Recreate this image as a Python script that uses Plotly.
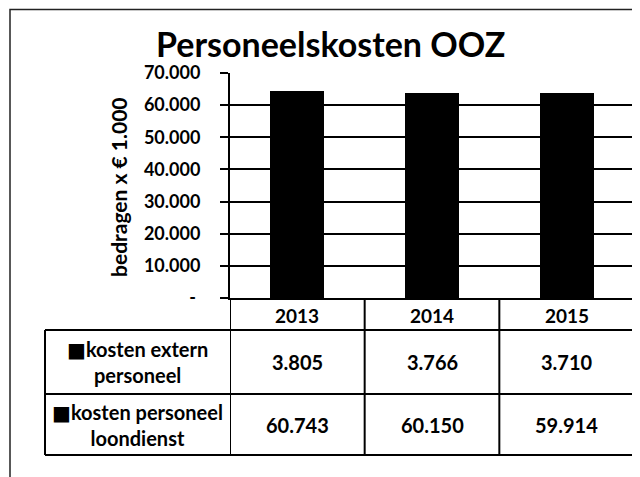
import plotly.graph_objects as go

# ---- data ----
years = ["2013", "2014", "2015"]
kosten_extern = [3805, 3766, 3710]
kosten_loondienst = [60743, 60150, 59914]
row_labels = ["\u25A0kosten extern<br>personeel", "\u25A0kosten personeel<br>loondienst"]
y_tickvals = [0, 10000, 20000, 30000, 40000, 50000, 60000, 70000]
y_ticktext = ["-\u2009\u2009", "10.000", "20.000", "30.000", "40.000", "50.000", "60.000", "70.000"]
title_text = "Personeelskosten OOZ"
y_title = "bedragen x \u20ac 1.000"

W, H = 640, 477
OFF = 8  # page body margin offset of the rendered figure
FONT = "Lato, 'DejaVu Sans', sans-serif"


def px(x):
    return (x - OFF) / W


def py(y):
    return 1 - (y - OFF) / H


def fmt(v):
    return f"{v:,}".replace(",", ".")


fig = go.Figure()
fig.add_trace(go.Bar(x=years, y=kosten_loondienst, marker=dict(color="black", line=dict(width=0)),
                     name="kosten personeel loondienst", showlegend=False))
fig.add_trace(go.Bar(x=years, y=kosten_extern, marker=dict(color="black", line=dict(width=0)),
                     name="kosten extern personeel", showlegend=False))

# plot area pixel bounds (screen pixels)
PL, PR, PT, PB = 230, 634, 73, 298
# table rows
T_HEAD_B, T_ROW1_B, T_ROW2_B = 330, 394, 455
T_LEFT = 45

shapes = []
line = dict(color="black", width=2)
# vertical column separators through table
for xv in [-0.5, 0.5, 1.5, 2.5]:
    shapes.append(dict(type="line", xref="x", yref="paper", x0=xv, x1=xv,
                       y0=py(PB), y1=py(T_ROW2_B), line=line))
# horizontal rows spanning label column + data columns
for yv in [T_HEAD_B, T_ROW1_B, T_ROW2_B]:
    shapes.append(dict(type="line", xref="paper", yref="paper", x0=px(T_LEFT), x1=px(PR),
                       y0=py(yv), y1=py(yv), line=line))
# left edge of label column
shapes.append(dict(type="line", xref="paper", yref="paper", x0=px(T_LEFT), x1=px(T_LEFT),
                   y0=py(T_HEAD_B), y1=py(T_ROW2_B), line=line))
# outer chart border
shapes.append(dict(type="rect", xref="paper", yref="paper", x0=px(10), x1=px(700),
                   y0=py(9.5), y1=py(540), line=dict(color="#222", width=1.5)))

annotations = []
# title
annotations.append(dict(text=title_text, xref="paper", yref="paper", x=px(330), y=py(44),
                        showarrow=False, xanchor="center", yanchor="middle",
                        font=dict(family=FONT, size=34, color="black", weight="bold")))
# y-axis title
annotations.append(dict(text=y_title, xref="paper", yref="paper", x=px(118), y=py(187),
                        showarrow=False, textangle=-90, xanchor="center", yanchor="middle",
                        font=dict(family=FONT, size=21, color="black", weight="bold")))
# header row
head_c = (PB + T_HEAD_B) / 2
for i, yr in enumerate(years):
    annotations.append(dict(text=yr, xref="x", yref="paper", x=i, y=py(head_c + 1),
                            showarrow=False, xanchor="center", yanchor="middle",
                            font=dict(family=FONT, size=19, color="black", weight="bold")))
# data rows
row_centers = [(T_HEAD_B + T_ROW1_B) / 2, (T_ROW1_B + T_ROW2_B) / 2]
for rc, label, vals in zip(row_centers, row_labels, [kosten_extern, kosten_loondienst]):
    annotations.append(dict(text=label, xref="paper", yref="paper", x=px((T_LEFT + PL) / 2),
                            y=py(rc), showarrow=False, xanchor="center", yanchor="middle",
                            align="center",
                            font=dict(family=FONT, size=20, color="black", weight="bold")))
    for i, v in enumerate(vals):
        annotations.append(dict(text=fmt(v), xref="x", yref="paper", x=i, y=py(rc),
                                showarrow=False, xanchor="center", yanchor="middle",
                                font=dict(family=FONT, size=20, color="black", weight="bold")))

fig.update_layout(
    width=W, height=H,
    margin=dict(l=0, r=0, t=0, b=0, autoexpand=False),
    paper_bgcolor="white", plot_bgcolor="white",
    barmode="stack", bargap=0.6,
    shapes=shapes, annotations=annotations,
    xaxis=dict(domain=[px(PL), px(PR)], range=[-0.5, 2.5], showticklabels=False,
               showgrid=False, zeroline=False, showline=True, linecolor="black", linewidth=2,
               ticks="", automargin=False),
    yaxis=dict(domain=[py(PB), py(PT)], range=[0, 70000], tickvals=y_tickvals, ticktext=y_ticktext,
               showgrid=True, gridcolor="black", gridwidth=2, zeroline=False,
               showline=True, linecolor="black", linewidth=2,
               ticks="outside", ticklen=8, tickcolor="black", tickwidth=2,
               ticklabelstandoff=16, automargin=False,
               tickfont=dict(family=FONT, size=18, color="black", weight="bold")),
)

fig.write_html("out.html")
